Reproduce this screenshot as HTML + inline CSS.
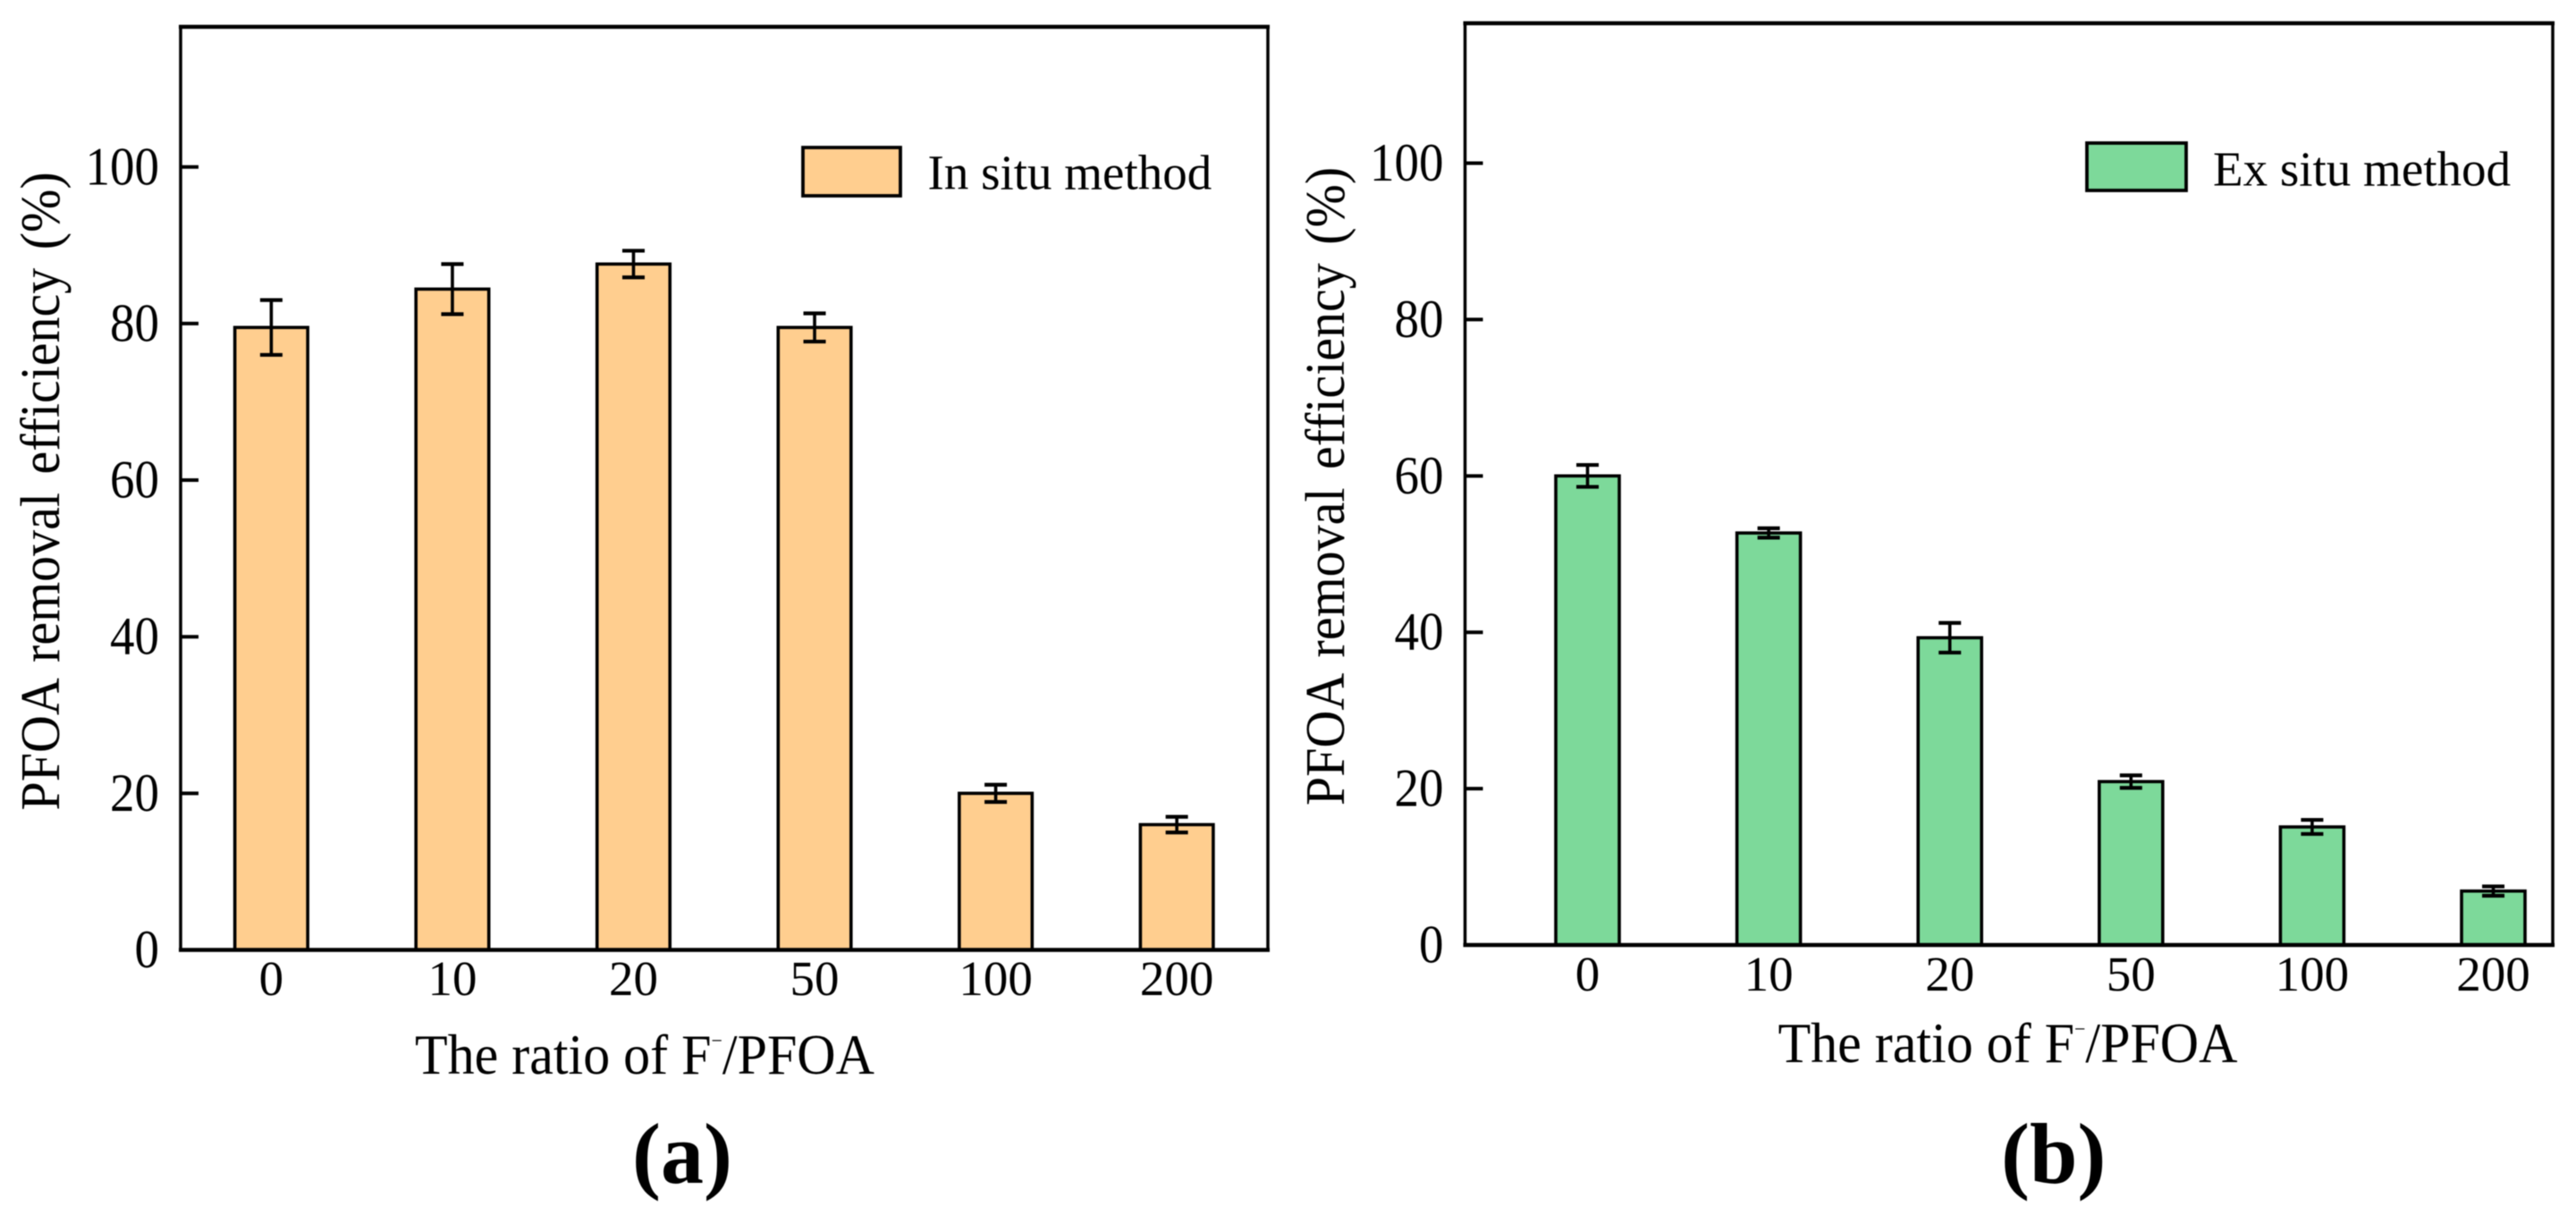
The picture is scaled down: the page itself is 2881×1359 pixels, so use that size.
<!DOCTYPE html>
<html lang="en">
<head>
<meta charset="utf-8">
<title>PFOA removal efficiency vs F-/PFOA ratio</title>
<style>
  html, body { margin: 0; padding: 0; background: #ffffff; }
  body { width: 2881px; height: 1359px; overflow: hidden; }
  svg { display: block; filter: blur(0.6px); }
  text { font-family: "Liberation Serif", "Times New Roman", serif; fill: #000; }
  .tick { font-size: 55px; }
  .title { font-size: 60px; }
  .y-title { font-size: 58px; word-spacing: 6px; }
  .legend { font-size: 55px; }
  .panel-label { font-size: 96px; font-weight: bold; fill: #000; }
</style>
</head>
<body>
<svg id="figure" xmlns="http://www.w3.org/2000/svg" width="2881" height="1359" viewBox="0 0 2881 1359">
  <rect x="0" y="0" width="2881" height="1359" fill="#ffffff"/>

  <g id="panel-a"></g>
  <g id="panel-b"></g>

  <text class="y-title" transform="translate(66,906.5) rotate(-90) scale(1,1.07)">PFOA removal efficiency (%)</text>
  <text class="title" transform="translate(464,1201) scale(1,1.06)">The ratio of F<tspan font-size="22" dy="-28">−</tspan><tspan dy="28">/PFOA</tspan></text>
  <text class="legend" x="1037.5" y="211.5">In situ method</text>
  <text class="panel-label" x="707" y="1323">(a)</text>

  <text class="y-title" transform="translate(1503,901) rotate(-90) scale(1,1.07)">PFOA removal efficiency (%)</text>
  <text class="title" transform="translate(1988.5,1188) scale(1,1.06)">The ratio of F<tspan font-size="22" dy="-28">−</tspan><tspan dy="28">/PFOA</tspan></text>
  <text class="legend" x="2475" y="207.5">Ex situ method</text>
  <text class="panel-label" x="2238" y="1323">(b)</text>
</svg>

<script>
const categories = ["0", "10", "20", "50", "100", "200"];
const yTickValues = [0, 20, 40, 60, 80, 100];
const inSituValues = [79.5, 84.4, 87.6, 79.5, 20.0, 16.0];
const inSituErrors = [3.5, 3.2, 1.7, 1.8, 1.1, 1.0];
const exSituValues = [60.0, 52.7, 39.3, 20.9, 15.1, 6.9];
const exSituErrors = [1.4, 0.6, 1.9, 0.8, 0.9, 0.6];

const NS = "http://www.w3.org/2000/svg";

function make(tag, parent, attrs) {
  const el = document.createElementNS(NS, tag);
  for (const key in attrs) el.setAttribute(key, attrs[key]);
  parent.appendChild(el);
  return el;
}

function drawPanel(cfg, values, errors) {
  const root = document.getElementById(cfg.id);
  const yDomainMax = 117.9;
  const yScale = v => cfg.bottom - (v / yDomainMax) * (cfg.bottom - cfg.top);
  const xScale = i => cfg.left + cfg.firstOffset + i * cfg.step;

  const frame = make("rect", root, { x: cfg.left, y: cfg.top, width: cfg.right - cfg.left, height: cfg.bottom - cfg.top, fill: "#ffffff", stroke: "#000", "stroke-width": 3.5 });
  
  

  values.forEach((value, i) => {
    const top = yScale(value);
    const cx = xScale(i);
    const bar = make("rect", root, { x: cx - cfg.barWidth / 2, y: top, width: cfg.barWidth, height: cfg.bottom - top, fill: cfg.fill, stroke: "#000", "stroke-width": 3.6 });
    
    

    const hi = yScale(value + errors[i]);
    const lo = yScale(value - errors[i]);
    const stem = make("line", root, { x1: cx, x2: cx, y1: hi, y2: lo, stroke: "#000", "stroke-width": 3.6 });
    
    
    const capTop = make("line", root, { x1: cx - 12.5, x2: cx + 12.5, y1: hi, y2: hi, stroke: "#000", "stroke-width": 4.2 });
    
    
    const capBottom = make("line", root, { x1: cx - 12.5, x2: cx + 12.5, y1: lo, y2: lo, stroke: "#000", "stroke-width": 4.2 });
    
    

    const xLabel = make("text", root, { class: "tick", x: cx, y: cfg.xLabelBaseline, "text-anchor": "middle" });
    xLabel.textContent = categories[i];
    
    
  });

  const topEdge = make("line", root, { x1: cfg.left - 2, x2: cfg.right + 2, y1: cfg.top, y2: cfg.top, stroke: "#000", "stroke-width": 4.5 });
  
  
  const xAxis = make("line", root, { x1: cfg.left - 2, x2: cfg.right + 2, y1: cfg.bottom, y2: cfg.bottom, stroke: "#000", "stroke-width": 4.5 });
  
  

  yTickValues.forEach(tickValue => {
    const y = yScale(tickValue);
    const tick = make("line", root, { x1: cfg.left, x2: cfg.left + 20, y1: y, y2: y, stroke: "#000", "stroke-width": 4 });
    
    
    const label = make("text", root, { class: "tick", "text-anchor": "end", transform: "translate(" + cfg.yLabelRight + "," + (y + 19.5) + ") scale(1,1.09)" });
    label.textContent = String(tickValue);
    
    
  });

  const swatch = make("rect", root, { x: cfg.legendX, y: cfg.legendY, width: cfg.legendW, height: cfg.legendH, fill: cfg.fill, stroke: "#000", "stroke-width": 3.8 });
  
  
}

drawPanel({
  id: "panel-a", left: 202, right: 1418, top: 30, bottom: 1062.5,
  firstOffset: 101.4, step: 202.55, barWidth: 81.5, fill: "#FFCE8F",
  xLabelBaseline: 1113, yLabelRight: 178,
  legendX: 898, legendY: 165, legendW: 109, legendH: 54
}, inSituValues, inSituErrors);

drawPanel({
  id: "panel-b", left: 1638.5, right: 2855, top: 26, bottom: 1057,
  firstOffset: 137, step: 202.6, barWidth: 71, fill: "#7DD99A",
  xLabelBaseline: 1108, yLabelRight: 1614.5,
  legendX: 2334, legendY: 160, legendW: 111, legendH: 53
}, exSituValues, exSituErrors);
</script>
</body>
</html>
